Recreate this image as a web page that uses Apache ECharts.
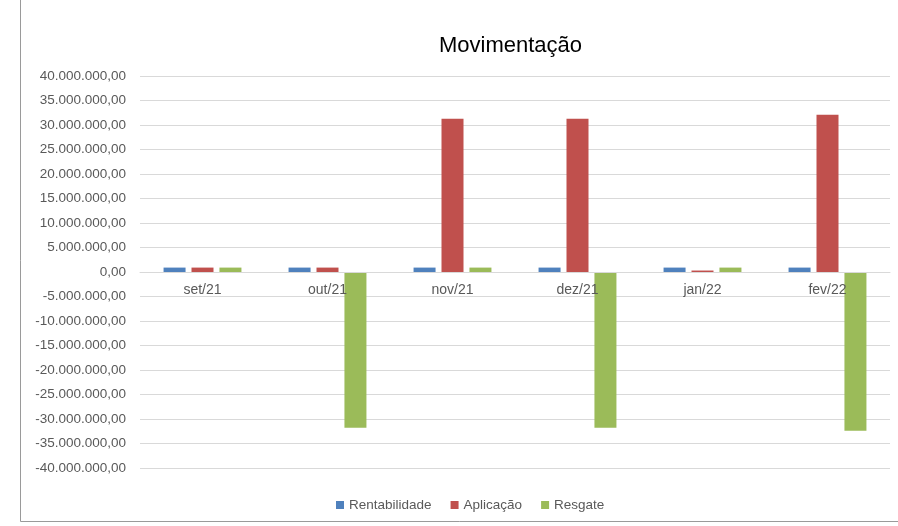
<!DOCTYPE html>
<html>
<head>
<meta charset="utf-8">
<script src="https://cdn.jsdelivr.net/npm/echarts@6/dist/echarts.min.js"></script>
<style>
html,body{margin:0;padding:0;background:#fff;}
#c{width:898px;height:526px;}
</style>
</head>
<body>
<div id="c"></div>
<script>
const categories = ['set/21', 'out/21', 'nov/21', 'dez/21', 'jan/22', 'fev/22'];
const rentabilidade = [900000, 900000, 900000, 900000, 900000, 900000];
const aplicacao = [900000, 900000, 31300000, 31300000, 300000, 32100000];
const resgate = [900000, -31800000, 900000, -31800000, 900000, -32400000];
const yTicks = { min: -40000000, max: 40000000, interval: 5000000 };

function fmt(v) {
  const neg = v < 0;
  let s = Math.round(Math.abs(v)).toString();
  s = s.replace(/\B(?=(\d{3})+(?!\d))/g, '.');
  return (neg ? '-' : '') + s + ',00';
}

const font = 'Liberation Sans';
const gridTop = 76, gridHeight = 392;
const chart = echarts.init(document.getElementById('c'));
chart.setOption({
  animation: false,
  title: {
    text: 'Movimentação',
    left: 434,
    top: 30,
    textStyle: { fontFamily: font, fontSize: 22, fontWeight: 'normal', color: '#000' }
  },
  graphic: [{
    type: 'rect',
    shape: { x: 20.5, y: -2, width: 900, height: 523.5 },
    style: { fill: 'none', stroke: '#9a9a9a', lineWidth: 1 },
    silent: true
  }],
  legend: {
    data: ['Rentabilidade', 'Aplicação', 'Resgate'],
    left: 331,
    top: 493,
    icon: 'rect',
    itemWidth: 8,
    itemHeight: 8,
    itemGap: 19,
    textStyle: { fontFamily: font, fontSize: 13.5, color: '#595959' }
  },
  grid: { left: 140, right: 8, top: gridTop, height: gridHeight, containLabel: false },
  xAxis: {
    type: 'category',
    data: categories,
    position: 'bottom',
    offset: -gridHeight / 2,
    z: 10,
    axisLine: { show: true, onZero: false, lineStyle: { color: '#d9d9d9' } },
    axisTick: { show: false },
    axisLabel: { margin: 11, fontFamily: font, fontSize: 14, color: '#595959' },
    splitLine: { show: false }
  },
  yAxis: {
    type: 'value',
    min: yTicks.min,
    max: yTicks.max,
    interval: yTicks.interval,
    axisLine: { show: false },
    axisTick: { show: false },
    axisLabel: { margin: 14, fontFamily: font, fontSize: 13.5, color: '#595959', formatter: fmt },
    splitLine: { lineStyle: { color: '#d9d9d9' } }
  },
  series: [
    { name: 'Rentabilidade', type: 'bar', data: rentabilidade, barWidth: 22, barGap: '27%', z: 2, itemStyle: { color: '#4F81BD' } },
    { name: 'Aplicação', type: 'bar', data: aplicacao, barWidth: 22, barGap: '27%', z: 2, itemStyle: { color: '#C0504D' } },
    { name: 'Resgate', type: 'bar', data: resgate, barWidth: 22, barGap: '27%', z: 2, itemStyle: { color: '#9BBB59' } }
  ]
});
</script>
</body>
</html>
